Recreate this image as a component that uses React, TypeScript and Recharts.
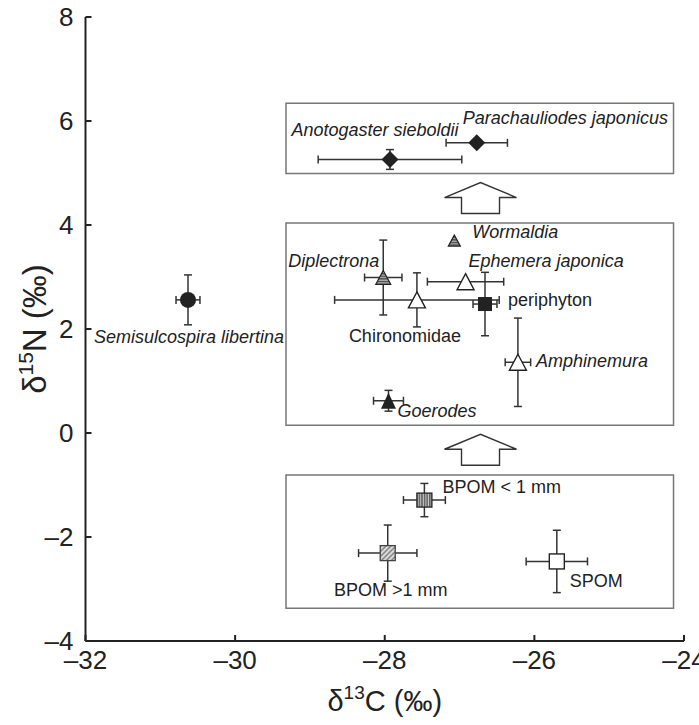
import React from "react";
import {
  ScatterChart,
  Scatter,
  XAxis,
  YAxis,
  ErrorBar,
  ReferenceArea,
  ReferenceDot,
  Label,
} from "recharts";

// isotope values
const taxa = [
  "Semisulcospira libertina",
  "Anotogaster sieboldii",
  "Parachauliodes japonicus",
  "Wormaldia",
  "Diplectrona",
  "Ephemera japonica",
  "Chironomidae",
  "periphyton",
  "Amphinemura",
  "Goerodes",
  "BPOM < 1 mm",
  "BPOM >1 mm",
  "SPOM",
];
const d13C = [-30.63, -27.93, -26.77, -27.07, -28.02, -26.92, -27.57, -26.66, -26.22, -27.95, -27.47, -27.96, -25.7];
const d15N = [2.56, 5.26, 5.58, 3.7, 2.99, 2.91, 2.56, 2.48, 1.36, 0.62, -1.29, -2.31, -2.47];
const sdC = [0.16, 0.96, 0.41, 0, 0.25, 0.51, 1.1, 0.16, 0.17, 0.2, 0.28, 0.39, 0.41];
const sdN = [0.48, 0.19, 0, 0, 0.72, 0, 0.52, 0.61, 0.85, 0.2, 0.32, 0.54, 0.6];
const markers = [
  "circle",
  "diamond",
  "diamond",
  "triSmall",
  "triStripe",
  "triOpen",
  "triOpen",
  "squareFilled",
  "triOpen",
  "triFilled",
  "squareVert",
  "squareDiag",
  "squareOpen",
];
const italicNames = [
  "Semisulcospira libertina",
  "Anotogaster sieboldii",
  "Parachauliodes japonicus",
  "Wormaldia",
  "Diplectrona",
  "Ephemera japonica",
  "Amphinemura",
  "Goerodes",
];

// grouping boxes and arrows
const boxX = [-29.32, -24.14];
const boxY = [
  [4.99, 6.34],
  [0.15, 4.04],
  [-3.37, -0.81],
];
const arrowX = -26.72;
const arrowBaseY = [4.22, -0.62];

const xTicks = [-32, -30, -28, -26, -24];
const yTicks = [-4, -2, 0, 2, 4, 6, 8];

// label offsets from the marker centre (px)
const labelPos: Record<string, { dx: number; dy: number; anchor: string }> = {
  "Semisulcospira libertina": { dx: 1, dy: 43, anchor: "middle" },
  "Anotogaster sieboldii": { dx: -15, dy: -23, anchor: "middle" },
  "Parachauliodes japonicus": { dx: -14, dy: -19, anchor: "start" },
  Wormaldia: { dx: 18, dy: -3, anchor: "start" },
  Diplectrona: { dx: -4, dy: -11, anchor: "end" },
  "Ephemera japonica": { dx: 3, dy: -15, anchor: "start" },
  Chironomidae: { dx: -12, dy: 42, anchor: "middle" },
  periphyton: { dx: 23, dy: 2, anchor: "start" },
  Amphinemura: { dx: 18, dy: 5, anchor: "start" },
  Goerodes: { dx: 9, dy: 16, anchor: "start" },
  "BPOM < 1 mm": { dx: 18, dy: -7, anchor: "start" },
  "BPOM >1 mm": { dx: 3, dy: 43, anchor: "middle" },
  SPOM: { dx: 13, dy: 26, anchor: "start" },
};

const rows = taxa.map((name, i) => ({
  name,
  x: d13C[i],
  y: d15N[i],
  ex: sdC[i],
  ey: sdN[i],
  marker: markers[i],
}));

const FONT = "'Liberation Sans', Arial, Helvetica, sans-serif";
const INK = "#222";

const dash = (v: number) => (v < 0 ? "\u2013" + Math.abs(v) : String(v));

function tri(cx: number, cy: number, w: number, h: number) {
  return `${cx},${cy - h / 2} ${cx + w / 2},${cy + h / 2} ${cx - w / 2},${cy + h / 2}`;
}

function Marker(props: any) {
  const { cx, cy } = props;
  const p = props.payload ?? props;
  const id = "pat-" + taxa.indexOf(p.name);
  let mark: React.ReactNode = null;
  let defs: React.ReactNode = null;

  switch (p.marker) {
    case "circle":
      mark = <circle cx={cx} cy={cy} r={8} fill={INK} />;
      break;
    case "diamond":
      mark = (
        <polygon
          points={`${cx},${cy - 8.5} ${cx + 8.5},${cy} ${cx},${cy + 8.5} ${cx - 8.5},${cy}`}
          fill={INK}
        />
      );
      break;
    case "triOpen":
      mark = <polygon points={tri(cx, cy, 17, 16)} fill="#fff" stroke={INK} strokeWidth={1.4} />;
      break;
    case "triFilled":
      mark = <polygon points={tri(cx, cy, 15, 16)} fill={INK} />;
      break;
    case "triStripe":
    case "triSmall": {
      const small = p.marker === "triSmall";
      defs = (
        <pattern id={id} width={4} height={2.6} patternUnits="userSpaceOnUse">
          <rect width={4} height={2.6} fill="#bbb" />
          <line x1={0} y1={0.7} x2={4} y2={0.7} stroke="#333" strokeWidth={1.2} />
        </pattern>
      );
      mark = (
        <polygon
          points={tri(cx, cy, small ? 12 : 15, small ? 11 : 14)}
          fill={`url(#${id})`}
          stroke={INK}
          strokeWidth={1.2}
        />
      );
      break;
    }
    case "squareFilled":
      mark = <rect x={cx - 7} y={cy - 7} width={14} height={14} fill={INK} />;
      break;
    case "squareOpen":
      mark = <rect x={cx - 7.5} y={cy - 7.5} width={15} height={15} fill="#fff" stroke={INK} strokeWidth={1.4} />;
      break;
    case "squareVert":
      defs = (
        <pattern id={id} width={2.6} height={4} patternUnits="userSpaceOnUse">
          <rect width={2.6} height={4} fill="#ccc" />
          <line x1={0.8} y1={0} x2={0.8} y2={4} stroke="#333" strokeWidth={1.1} />
        </pattern>
      );
      mark = (
        <rect x={cx - 7.5} y={cy - 7} width={15} height={14} fill={`url(#${id})`} stroke={INK} strokeWidth={1.3} />
      );
      break;
    case "squareDiag":
      defs = (
        <pattern id={id} width={3.5} height={3.5} patternUnits="userSpaceOnUse" patternTransform="rotate(-45)">
          <rect width={3.5} height={3.5} fill="#ddd" />
          <line x1={0} y1={1} x2={3.5} y2={1} stroke="#555" strokeWidth={1} />
        </pattern>
      );
      mark = (
        <rect x={cx - 7.5} y={cy - 7.5} width={15} height={15} fill={`url(#${id})`} stroke="#444" strokeWidth={1.3} />
      );
      break;
  }

  const lp = labelPos[p.name];
  return (
    <g>
      {defs && <defs>{defs}</defs>}
      {mark}
      {lp && (
        <text
          x={cx + lp.dx}
          y={cy + lp.dy}
          textAnchor={lp.anchor as any}
          fontSize={18}
          fontFamily={FONT}
          fontStyle={italicNames.includes(p.name) ? "italic" : "normal"}
          fill={INK}
        >
          {p.name}
        </text>
      )}
    </g>
  );
}

function BlockArrow(props: any) {
  const { cx, cy } = props;
  const pts = [
    [cx - 19, cy],
    [cx + 19, cy],
    [cx + 19, cy - 16],
    [cx + 36, cy - 16],
    [cx, cy - 31],
    [cx - 36, cy - 16],
    [cx - 19, cy - 16],
  ]
    .map((q) => q.join(","))
    .join(" ");
  return <polygon points={pts} fill="#fff" stroke="#333" strokeWidth={1.4} />;
}

function XTitle(props: any) {
  const { x, y, width } = props.viewBox;
  return (
    <text x={x + width / 2} y={y + 70} textAnchor="middle" fontSize={29} fontFamily={FONT} fill={INK}>
      <tspan>δ</tspan>
      <tspan fontSize={19} dy={-12}>13</tspan>
      <tspan dy={12}>C (‰)</tspan>
    </text>
  );
}

function YTitle(props: any) {
  const { y, height } = props.viewBox;
  const bx = 46;
  const by = y + height / 2;
  return (
    <text
      x={bx}
      y={by}
      transform={`rotate(-90 ${bx} ${by})`}
      textAnchor="middle"
      fontSize={33}
      fontFamily={FONT}
      fill={INK}
    >
      <tspan>δ</tspan>
      <tspan fontSize={21} dy={-13}>15</tspan>
      <tspan dy={13}>N (‰)</tspan>
    </text>
  );
}

export default function App() {
  return (
    <div style={{ position: "absolute", left: 0, top: 0, background: "#fff" }}>
      <ScatterChart
        width={699}
        height={725}
        margin={{ top: 17, right: 15, bottom: 0, left: 0 }}
        style={{ fontFamily: FONT }}
      >
        <XAxis
          type="number"
          dataKey="x"
          domain={[-32, -24]}
          ticks={xTicks}
          tickFormatter={dash}
          height={84}
          tickSize={-6}
          tickMargin={16}
          axisLine={{ stroke: INK, strokeWidth: 2 }}
          tickLine={{ stroke: INK, strokeWidth: 2 }}
          tick={{ fill: INK, fontSize: 26, fontFamily: FONT }}
          interval={0}
        >
          <Label content={<XTitle />} />
        </XAxis>
        <YAxis
          type="number"
          dataKey="y"
          domain={[-4, 8]}
          ticks={yTicks}
          tickFormatter={dash}
          width={85.5}
          tickSize={-6}
          tickMargin={18}
          axisLine={{ stroke: INK, strokeWidth: 2 }}
          tickLine={{ stroke: INK, strokeWidth: 2 }}
          tick={{ fill: INK, fontSize: 26, fontFamily: FONT }}
          interval={0}
        >
          <Label content={<YTitle />} />
        </YAxis>

        {boxY.map(([y1, y2], i) => (
          <ReferenceArea
            key={"box" + i}
            x1={boxX[0]}
            x2={boxX[1]}
            y1={y1}
            y2={y2}
            fill="none"
            fillOpacity={0}
            stroke="#777"
            strokeWidth={1.5}
          />
        ))}
        {arrowBaseY.map((yb, i) => (
          <ReferenceDot key={"arrow" + i} x={arrowX} y={yb} r={1} shape={<BlockArrow />} />
        ))}

        <Scatter data={rows} shape={<Marker />} isAnimationActive={false}>
          <ErrorBar dataKey="ex" direction="x" width={4} stroke="#333" strokeWidth={1.5} />
          <ErrorBar dataKey="ey" direction="y" width={4} stroke="#333" strokeWidth={1.5} />
        </Scatter>
      </ScatterChart>
    </div>
  );
}
